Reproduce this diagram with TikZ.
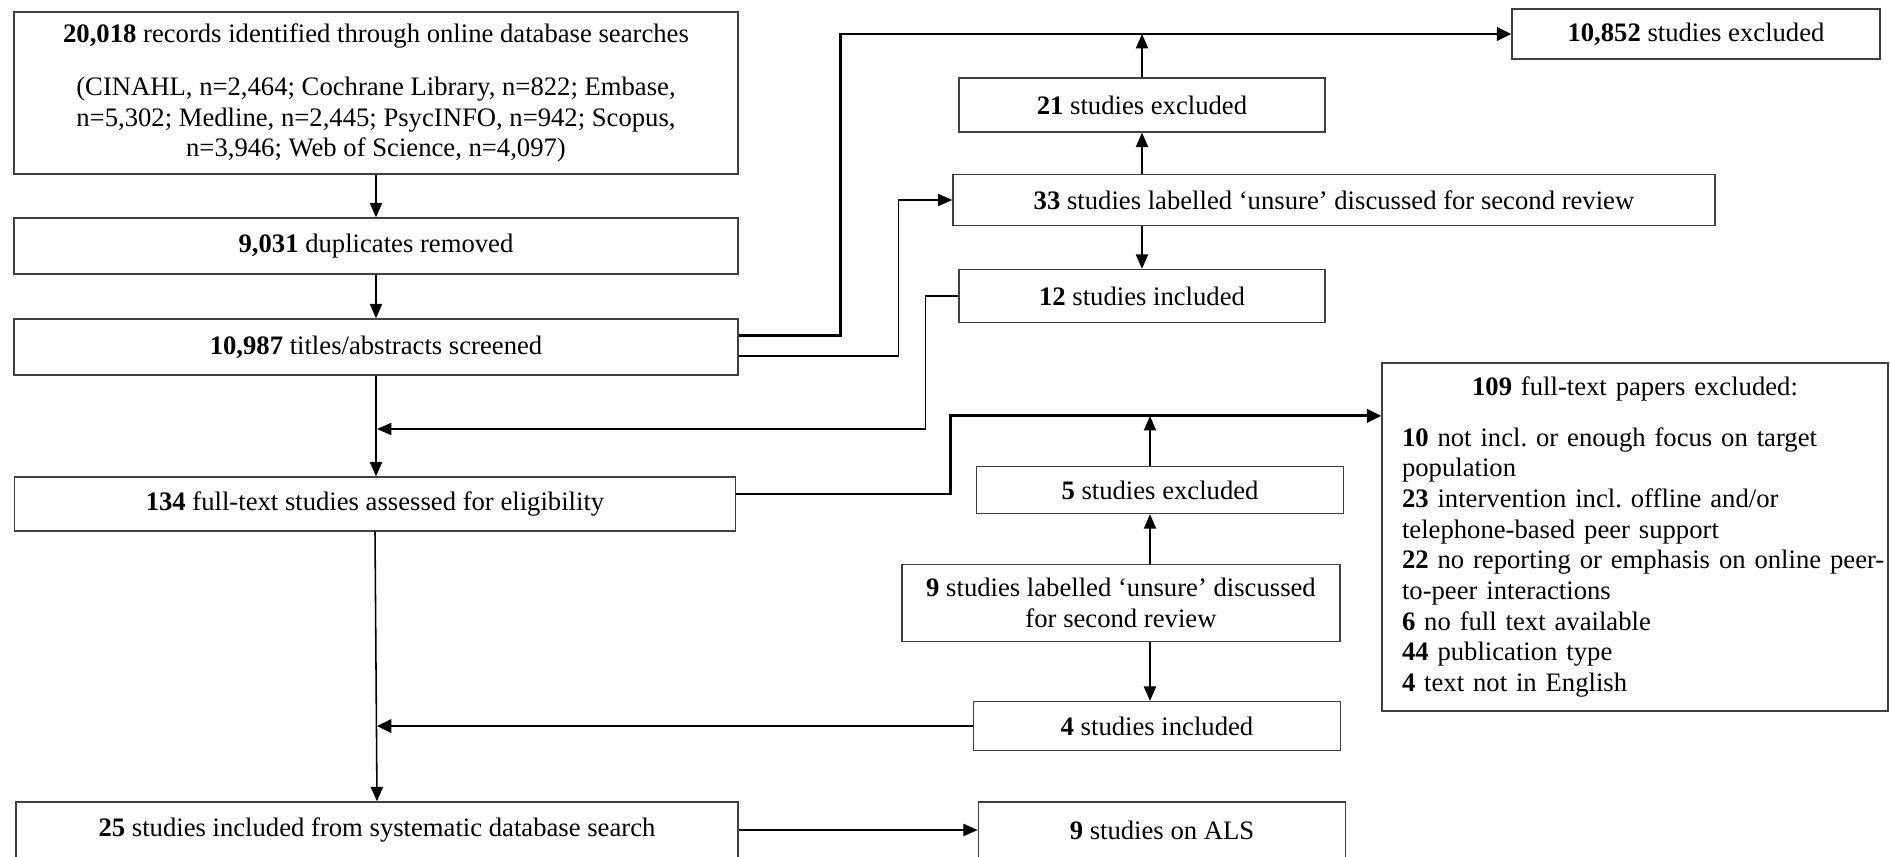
\documentclass[tikz,border=0pt]{standalone}
\usepackage{fontspec}
\setmainfont{Liberation Serif}
\usetikzlibrary{arrows.meta}
\frenchspacing

\tikzset{
  box/.style={draw=black!75, line width=0.6pt, inner sep=2pt, align=center},
  flow/.style={line width=0.7pt, -{Triangle[length=6.5pt,width=5.5pt]}},
  mainflow/.style={line width=1.3pt, -{Triangle[length=6.5pt,width=6pt]}},
}

\begin{document}
\begin{tikzpicture}[x=0.45pt, y=-0.45pt, font=\fontsize{12pt}{13.8pt}\selectfont]

  \useasboundingbox (0,0) rectangle (1890,856);

  % ------------------------------------------------------ left column
  \node[box, minimum width=325.8pt, minimum height=72.9pt] (records) at (376,93)
    {\textbf{20,018} records identified through online database searches\\[10pt]
     (CINAHL, n=2,464; Cochrane Library, n=822; Embase,\\
     n=5,302; Medline, n=2,445; PsycINFO, n=942; Scopus,\\
     n=3,946; Web of Science, n=4,097)};
  \node[box, minimum width=325.8pt, minimum height=25.2pt] (dupl) at (376,246)
    {\textbf{9,031} duplicates removed};
  \node[box, minimum width=325.8pt, minimum height=25.2pt] (screen) at (376,347)
    {\textbf{10,987} titles/abstracts screened};
  \node[box, minimum width=324.5pt, minimum height=24.3pt] (fulltext) at (375,504)
    {\textbf{134} full-text studies assessed for eligibility};
  \node[box, minimum width=325pt, minimum height=25.2pt] (included) at (377,830)
    {\textbf{25} studies included from systematic database search};
  \node[box, minimum width=165.2pt, minimum height=25.2pt] (als) at (1162,830)
    {\textbf{9} studies on ALS};

  % ------------------------------------------------ screening branch
  \node[box, minimum width=165.6pt, minimum height=22.5pt] (excl) at (1696,34)
    {\textbf{10,852} studies excluded};
  \node[box, minimum width=164.7pt, minimum height=24.3pt] (exclA) at (1142,105)
    {\textbf{21} studies excluded};
  \node[box, minimum width=342.9pt, minimum height=23pt] (unsureA) at (1334,200)
    {\textbf{33} studies labelled `unsure' discussed for second review};
  \node[box, minimum width=164.7pt, minimum height=23.9pt] (inclA) at (1142,296)
    {\textbf{12} studies included};

  % ------------------------------------------------ full-text branch
  \node[box, minimum width=227.7pt, minimum height=156.6pt, inner xsep=9pt,
        inner ysep=5pt, text width=209.7pt, align=left] (reasons) at (1635,537)
    {\makebox[\hsize]{\textbf{109} full-text papers excluded:}\\[9pt]
     \textbf{10} not incl. or enough focus on target\\
     population\\
     \textbf{23} intervention incl. offline and/or\\
     telephone-based peer support\\
     \mbox{\textbf{22} no reporting or emphasis on online peer-}\\
     to-peer interactions\\
     \textbf{6} no full text available\\
     \textbf{44} publication type\\
     \textbf{4} text not in English};
  \node[box, minimum width=165.2pt, minimum height=21.2pt] (exclB) at (1160,490)
    {\textbf{5} studies excluded};
  \node[box, minimum width=197.1pt, minimum height=34.7pt] (unsureB) at (1121,603)
    {\textbf{9} studies labelled `unsure' discussed\\for second review};
  \node[box, minimum width=165.2pt, minimum height=22pt] (inclB) at (1157,726)
    {\textbf{4} studies included};

  % junction points on the connectors
  \coordinate (screenjoin) at (377,429);
  \coordinate (reasonsin) at ([yshift=54.5pt]reasons.west);
  \coordinate (riseB) at (1150,416);

  % ------------------------------------------------------- connectors
  \draw[flow] (records) -- (dupl);
  \draw[flow] (dupl) -- (screen);
  \draw[flow] (screen.south) -- (screen.south |- fulltext.north);
  \draw[flow] (fulltext.south) -- (included.north);
  \draw[flow] (included.east) -- (als.west);

  \draw[mainflow] ([yshift=5pt]screen.east) -- ++(102,0) |- (excl.west);
  \draw[flow] ([yshift=-4pt]screen.east) -- ++(160,0) |- (unsureA.west);
  \draw[flow] (exclA.north) -- (exclA.north |- excl.west);
  \draw[flow] (exclA.south |- unsureA.north) -- (exclA.south);
  \draw[flow] (exclA.south |- unsureA.south) -- (inclA.north);
  \draw[flow] (inclA.west) -- ++(-33,0) |- (screenjoin);

  \draw[mainflow] ([yshift=4.5pt]fulltext.east) -- ++(214,0) |- (reasonsin);
  \draw[flow] (riseB |- exclB.north) -- (riseB);
  \draw[flow] (riseB |- unsureB.north) -- (riseB |- exclB.south);
  \draw[flow] (riseB |- unsureB.south) -- (riseB |- inclB.north);
  \draw[mainflow] (inclB.west) -- (inclB.west -| included.north);

\end{tikzpicture}
\end{document}
